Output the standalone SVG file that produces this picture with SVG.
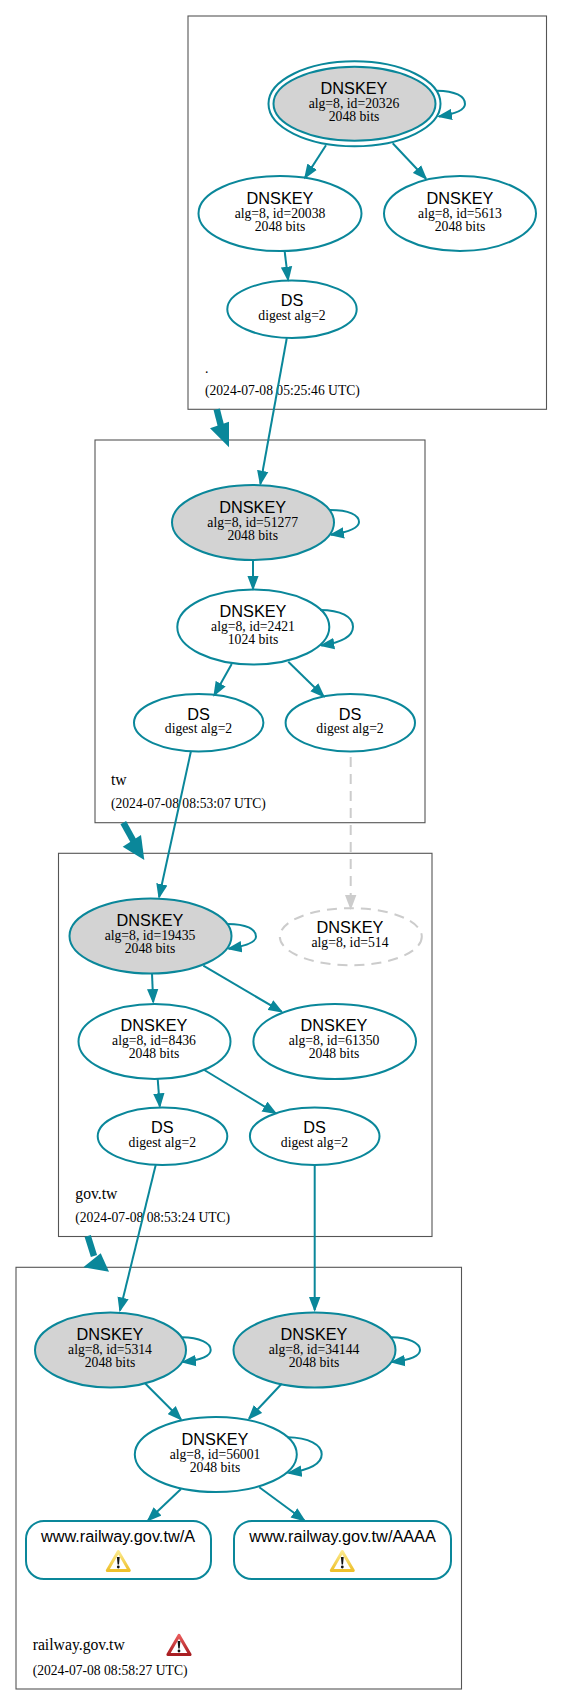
<svg xmlns="http://www.w3.org/2000/svg" width="563" height="1705" viewBox="0 0 563 1705">
<style>
.box{fill:#fff;stroke:#555;stroke-width:1.1}
.n{fill:#fff;stroke:#0a879a;stroke-width:2}
.k{fill:#d3d3d3;stroke:#0a879a;stroke-width:2}
.d{fill:#fff;stroke:#ccc;stroke-width:2;stroke-dasharray:10 7}
.e{fill:none;stroke:#0a879a;stroke-width:2;marker-end:url(#a)}
.ed{fill:none;stroke:#ccc;stroke-width:2;stroke-dasharray:10 7;marker-end:url(#g)}
.t{stroke:#0a879a;stroke-width:6.5;fill:none}
.h{fill:#0a879a}
.s{font-family:"Liberation Sans",Arial,sans-serif;font-size:16.3px;text-anchor:middle;fill:#000}
.m{font-family:"Liberation Serif","Times New Roman",serif;font-size:13.7px;text-anchor:middle;fill:#000}
.l{font-family:"Liberation Serif","Times New Roman",serif;font-size:13.6px;fill:#000}
.l2{font-family:"Liberation Serif","Times New Roman",serif;font-size:15.7px;fill:#000}
.ex{fill:#111}
</style>
<defs>
<marker id="a" markerUnits="userSpaceOnUse" markerWidth="16" markerHeight="12" refX="13" refY="6" orient="auto"><path d="M0 0.3L15 6L0 11.7Z" fill="#0a879a"/></marker>
<marker id="g" markerUnits="userSpaceOnUse" markerWidth="16" markerHeight="12" refX="13" refY="6" orient="auto"><path d="M0 0.3L15 6L0 11.7Z" fill="#ccc"/></marker>
<linearGradient id="yw" x1="0" y1="0" x2="0" y2="1"><stop offset="0" stop-color="#fbe98a"/><stop offset="1" stop-color="#eec02c"/></linearGradient>
<linearGradient id="rd" x1="0" y1="0" x2="0" y2="1"><stop offset="0" stop-color="#e85a5a"/><stop offset="1" stop-color="#a81e22"/></linearGradient>
<g id="warn"><path d="M0 1.5L11 20.5H-11Z" fill="#fff" stroke="url(#yw)" stroke-width="3" stroke-linejoin="round"/><path d="M-1.4 7H1.4L.7 14.5H-.7Z" class="ex"/><circle cx="0" cy="17" r="1.4" class="ex"/></g>
<g id="err"><path d="M0 1.5L11 20.5H-11Z" fill="#fff" stroke="url(#rd)" stroke-width="3.2" stroke-linejoin="round"/><path d="M-1.4 7H1.4L.7 14.5H-.7Z" class="ex"/><circle cx="0" cy="17" r="1.4" class="ex"/></g>
</defs>
<g id="zones">
<g id="zone-root"><rect class="box" x="188" y="16" width="358.5" height="393.300"/><text class="l" x="205" y="373">.</text><text class="l" x="205" y="395">(2024-07-08 05:25:46 UTC)</text></g>
<g id="zone-tw"><rect class="box" x="95" y="440" width="330" height="382.700"/><text class="l2" x="111" y="784.500">tw</text><text class="l" x="111" y="807.500">(2024-07-08 08:53:07 UTC)</text></g>
<g id="zone-gov"><rect class="box" x="58.5" y="853.300" width="373.5" height="383.200"/><text class="l2" x="75.300" y="1199">gov.tw</text><text class="l" x="75.300" y="1221.500">(2024-07-08 08:53:24 UTC)</text></g>
<g id="zone-railway"><rect class="box" x="16" y="1267.300" width="445.500" height="421.700"/><text class="l2" x="32.700" y="1650">railway.gov.tw</text><text class="l" x="32.700" y="1675">(2024-07-08 08:58:27 UTC)</text><use href="#err" x="179" y="1634"/></g>
</g>
<g id="nodes">
<g id="k20326"><ellipse class="n" cx="354.500" cy="103.800" rx="86" ry="42.500"/><ellipse class="k" cx="354.500" cy="103.800" rx="81" ry="37"/><text class="s" x="354" y="94">DNSKEY</text><text class="m" x="354" y="108">alg=8, id=20326</text><text class="m" x="354" y="121">2048 bits</text></g>
<g id="k20038"><ellipse class="n" cx="280" cy="213.500" rx="81.500" ry="37.500"/><text class="s" x="280" y="204">DNSKEY</text><text class="m" x="280" y="218">alg=8, id=20038</text><text class="m" x="280" y="231">2048 bits</text></g>
<g id="k5613"><ellipse class="n" cx="460" cy="213.500" rx="76" ry="37.500"/><text class="s" x="460" y="204">DNSKEY</text><text class="m" x="460" y="218">alg=8, id=5613</text><text class="m" x="460" y="231">2048 bits</text></g>
<g id="ds-root"><ellipse class="n" cx="292" cy="309.200" rx="64.700" ry="28.700"/><text class="s" x="292" y="305.700">DS</text><text class="m" x="292" y="319.700">digest alg=2</text></g>
<g id="k51277"><ellipse class="k" cx="253" cy="522.500" rx="81" ry="37.500"/><text class="s" x="252.700" y="512.700">DNSKEY</text><text class="m" x="252.700" y="527">alg=8, id=51277</text><text class="m" x="252.700" y="540">2048 bits</text></g>
<g id="k2421"><ellipse class="n" cx="253.300" cy="627" rx="76" ry="37.500"/><text class="s" x="253" y="617.300">DNSKEY</text><text class="m" x="253" y="631">alg=8, id=2421</text><text class="m" x="253" y="644.300">1024 bits</text></g>
<g id="ds-tw1"><ellipse class="n" cx="198.700" cy="722.800" rx="64.700" ry="28.700"/><text class="s" x="198.500" y="720">DS</text><text class="m" x="198.500" y="733">digest alg=2</text></g>
<g id="ds-tw2"><ellipse class="n" cx="350.300" cy="722.800" rx="64.700" ry="28.700"/><text class="s" x="350" y="720">DS</text><text class="m" x="350" y="733">digest alg=2</text></g>
<g id="k19435"><ellipse class="k" cx="150.500" cy="936" rx="81" ry="37.500"/><text class="s" x="150" y="926">DNSKEY</text><text class="m" x="150" y="940">alg=8, id=19435</text><text class="m" x="150" y="953.300">2048 bits</text></g>
<g id="k514"><ellipse class="d" cx="350.800" cy="936.700" rx="71" ry="28.500"/><text class="s" x="350" y="932.700">DNSKEY</text><text class="m" x="350" y="946.700">alg=8, id=514</text></g>
<g id="k8436"><ellipse class="n" cx="154.500" cy="1041.500" rx="76" ry="37.500"/><text class="s" x="154" y="1031">DNSKEY</text><text class="m" x="154" y="1045">alg=8, id=8436</text><text class="m" x="154" y="1057.700">2048 bits</text></g>
<g id="k61350"><ellipse class="n" cx="334.700" cy="1041.500" rx="81.300" ry="37.500"/><text class="s" x="334" y="1031">DNSKEY</text><text class="m" x="334" y="1045">alg=8, id=61350</text><text class="m" x="334" y="1057.700">2048 bits</text></g>
<g id="ds-gov1"><ellipse class="n" cx="162.500" cy="1136.300" rx="64.800" ry="28.700"/><text class="s" x="162.300" y="1133.300">DS</text><text class="m" x="162.300" y="1146.700">digest alg=2</text></g>
<g id="ds-gov2"><ellipse class="n" cx="314.700" cy="1136.300" rx="64.800" ry="28.700"/><text class="s" x="314.500" y="1133.300">DS</text><text class="m" x="314.500" y="1146.700">digest alg=2</text></g>
<g id="k5314"><ellipse class="k" cx="110.500" cy="1350" rx="75.500" ry="37.500"/><text class="s" x="110" y="1340">DNSKEY</text><text class="m" x="110" y="1354.300">alg=8, id=5314</text><text class="m" x="110" y="1366.700">2048 bits</text></g>
<g id="k34144"><ellipse class="k" cx="314.500" cy="1350" rx="81" ry="37.500"/><text class="s" x="314" y="1340">DNSKEY</text><text class="m" x="314" y="1354.300">alg=8, id=34144</text><text class="m" x="314" y="1366.700">2048 bits</text></g>
<g id="k56001"><ellipse class="n" cx="215.800" cy="1454.500" rx="81" ry="37.500"/><text class="s" x="215" y="1445.300">DNSKEY</text><text class="m" x="215" y="1459">alg=8, id=56001</text><text class="m" x="215" y="1471.700">2048 bits</text></g>
<g id="rr-a"><rect class="n" x="26" y="1521" width="185" height="58" rx="18"/><text class="s" x="118" y="1542">www.railway.gov.tw/A</text><use href="#warn" x="118.300" y="1550"/></g>
<g id="rr-aaaa"><rect class="n" x="234" y="1521" width="217" height="58" rx="18"/><text class="s" x="342.500" y="1542">www.railway.gov.tw/AAAA</text><use href="#warn" x="342.300" y="1550"/></g>
</g>
<g id="connectors">
<path class="e" d="M437 90.700C455 91 465 96 465 104C465 110 455 114 439 116.400"/>
<path class="e" d="M326 145.300L305.100 177.600"/>
<path class="e" d="M392.700 143.300L425.900 178.500"/>
<path class="e" d="M284.700 251.700L288.100 279.700"/>
<path class="e" d="M286.800 338L260.400 483.700"/>
<path class="e" d="M330 510C349 510 359 515 359 522C359 528 349 532 331 534.700"/>
<path class="e" d="M253 560L253 588.700"/>
<path class="e" d="M320 610C341 610 353 617 353 626.700C353 636 341 642.500 321.300 645.400"/>
<path class="e" d="M231.700 664L214.300 695"/>
<path class="e" d="M288.300 661.700L323.600 696.300"/>
<path class="e" d="M191 751L159.100 897"/>
<path class="ed" d="M350.700 757L350.700 908"/>
<path class="e" d="M227.700 924C246 924 256 929 256 936.700C256 942 246 946 228.700 948.700"/>
<path class="e" d="M152 973.500L153.200 1002"/>
<path class="e" d="M203.300 965.700L281.600 1011.700"/>
<path class="e" d="M157.700 1079L159.800 1106.300"/>
<path class="e" d="M204.300 1070L275.600 1113.300"/>
<path class="e" d="M155.700 1165L120 1310.400"/>
<path class="e" d="M314.700 1165L314.700 1310"/>
<path class="e" d="M181.700 1337.300C200 1337.500 210.700 1343 210.700 1350C210.700 1356 201 1360 183 1362"/>
<path class="e" d="M391 1337.300C409 1337.500 420 1343 420 1350C420 1356 410 1360 392 1362"/>
<path class="e" d="M145 1383.300L180.900 1419.300"/>
<path class="e" d="M281.700 1383.700L249.100 1418.500"/>
<path class="e" d="M287.300 1437.300C309 1437.500 321.700 1445 321.700 1454.300C321.700 1464 309 1470 288.700 1473"/>
<path class="e" d="M181 1489L148.100 1520.300"/>
<path class="e" d="M259.300 1487.300L304.400 1520.500"/>
<g id="zone-links">
<path class="t" d="M216.700 409.300L222 430"/><path class="h" d="M210 428.300L229 421.700L229 447.300Z"/>
<path class="t" d="M123.300 822.700L134 842"/><path class="h" d="M122.700 846.700L141 835L144.300 860Z"/>
<path class="t" d="M87.700 1236L94 1256"/><path class="h" d="M83.300 1267.300L100.700 1253.300L109 1271.700Z"/>
</g>
</g>
</svg>
